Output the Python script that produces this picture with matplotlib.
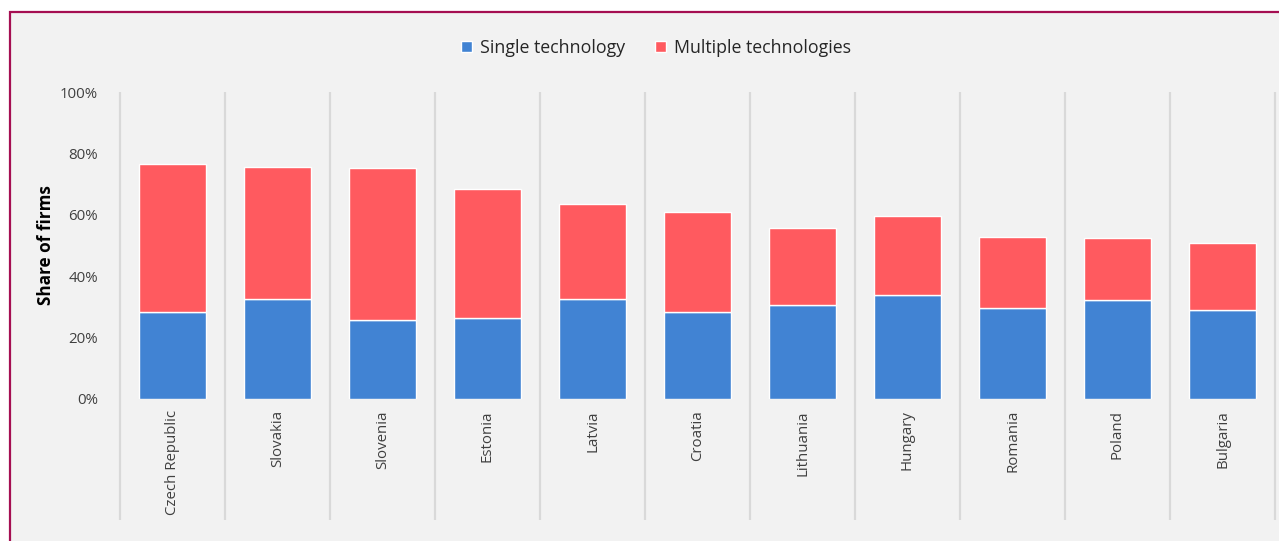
import matplotlib.pyplot as plt
from matplotlib.patches import Rectangle
from matplotlib.ticker import PercentFormatter
import numpy as np

countries = ["Czech Republic", "Slovakia", "Slovenia", "Estonia", "Latvia", "Croatia",
             "Lithuania", "Hungary", "Romania", "Poland", "Bulgaria"]
single = [28.3, 32.6, 25.8, 26.5, 32.6, 28.4, 30.6, 34.0, 29.7, 32.3, 29.1]
multiple = [48.2, 43.0, 49.4, 42.0, 30.9, 32.5, 25.1, 25.6, 23.1, 20.1, 21.7]

BLUE = "#4183d3"
RED = "#ff5a5f"
BG = "#f2f2f2"

plt.rcParams['font.family'] = ['Open Sans', 'DejaVu Sans']

fig = plt.figure(figsize=(12.79, 5.41), dpi=100, facecolor="white")
# framed panel behind everything
fig.patches.append(Rectangle((10 / 1279, -0.05), 1.1, (541 - 12) / 541 + 0.05,
                             transform=fig.transFigure, facecolor=BG,
                             edgecolor="#a50f52", linewidth=1.6, zorder=-10))

ax = fig.add_axes([120 / 1279, (541 - 399) / 541, (1275 - 120) / 1279, 307 / 541])
ax.set_facecolor("none")

x = np.arange(len(countries))
ax.bar(x, single, width=0.64, color=BLUE, edgecolor="white", linewidth=1,
       label="Single technology", zorder=3)
ax.bar(x, multiple, width=0.64, bottom=single, color=RED, edgecolor="white",
       linewidth=1, label="Multiple technologies", zorder=3)

# category separators running down through the label area
ax.vlines(np.arange(len(countries) + 1) - 0.5, -0.394, 1.0,
          transform=ax.get_xaxis_transform(), colors="#d9d9d9", linewidth=1.6,
          clip_on=False, zorder=1)

ax.set_xlim(-0.5, len(countries) - 0.5)
ax.set_ylim(0, 100)
ax.set_yticks(range(0, 101, 20))
ax.yaxis.set_major_formatter(PercentFormatter(decimals=0))
ax.set_xticks(x)
ax.set_xticklabels(countries, rotation=90, va="top")
ax.tick_params(axis="both", length=0, labelsize=10.8, labelcolor="#404040")
ax.tick_params(axis="y", pad=16)
ax.tick_params(axis="x", pad=8)
for s in ax.spines.values():
    s.set_visible(False)

ax.set_ylabel("Share of firms", fontsize=12.3, fontweight="bold", color="black", labelpad=3)

ax.legend(loc="center", bbox_to_anchor=(656 / 1279, (541 - 48) / 541),
          bbox_transform=fig.transFigure, ncol=2, frameon=False, fontsize=12.8,
          handlelength=0.6, handleheight=0.6, handletextpad=0.45, columnspacing=1.7,
          labelcolor="#262626")

fig.savefig("out.png", dpi=100, facecolor="white")
